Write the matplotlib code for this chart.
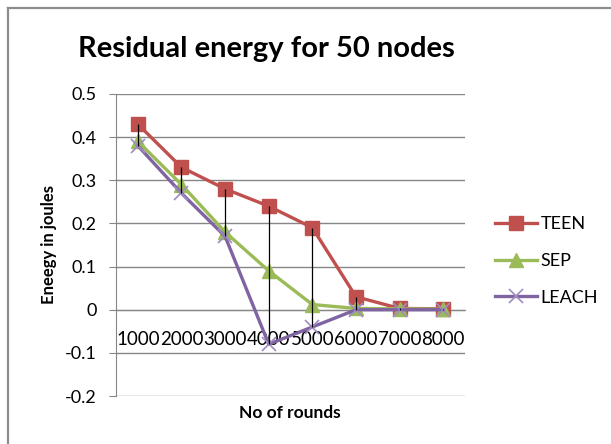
import numpy as np
import matplotlib
matplotlib.use('Agg')
import matplotlib.pyplot as plt
from matplotlib.lines import Line2D

# data
rounds = ['1000', '2000', '3000', '4000', '5000', '6000', '7000', '8000']
teen = [0.43, 0.33, 0.28, 0.24, 0.19, 0.03, 0.003, 0.002]
sep = [0.39, 0.29, 0.18, 0.09, 0.012, 0.003, 0.002, 0.001]
leach = [0.38, 0.27, 0.17, -0.08, -0.04, 0.0, 0.0, 0.0]
yticks = [-0.2, -0.1, 0, 0.1, 0.2, 0.3, 0.4, 0.5]

plt.rcParams['font.family'] = ['Lato', 'DejaVu Sans']

fig = plt.figure(figsize=(6.11, 4.44), dpi=100)
ax = fig.add_axes([0.1899, 0.1081, 0.5713, 0.6802])

# axis at zero first (set_position resets the ticks)
for s in ['top', 'right']:
    ax.spines[s].set_visible(False)
ax.spines['left'].set_color('#868686')
ax.spines['bottom'].set_color('#868686')
ax.spines['bottom'].set_position(('data', 0))

x = np.arange(1, len(rounds) + 1)

ax.plot(x, teen, color='#C0504D', lw=2.4, marker='s', ms=10, label='TEEN', zorder=3)
ax.plot(x, sep, color='#9BBB59', lw=2.4, marker='^', ms=10, label='SEP', zorder=4)
ax.plot(x, leach, color='#8064A2', lw=2.4, marker='x', ms=10, mew=1.2,
        mec='#A08CC0', label='LEACH', zorder=5)

# high-low lines
hi = np.max([teen, sep, leach], axis=0)
lo = np.min([teen, sep, leach], axis=0)
ax.vlines(x, lo, hi, color='black', lw=0.9, zorder=6)

ax.set_xlim(0.5, len(rounds) + 0.5)
ax.set_ylim(-0.2, 0.5)
ax.set_yticks(yticks)
ax.set_yticklabels(['-0.2', '-0.1', '0', '0.1', '0.2', '0.3', '0.4', '0.5'])
ax.set_xticks(x)
ax.set_xticklabels(rounds)
ax.tick_params(axis='x', length=0, pad=15, labelsize=13.5)
ax.tick_params(axis='y', length=5, color='#868686', pad=9, labelsize=13)
ax.grid(axis='y', color='#868686', lw=1)
ax.set_axisbelow(True)

ax.set_ylabel('Eneegy in joules', fontsize=12, fontweight='bold', labelpad=6)
fig.text(0.4746, 0.07, 'No of rounds', fontsize=12.5, fontweight='bold', ha='center', va='center')

fig.text(0.436, 0.89, 'Residual energy for 50 nodes', fontsize=21, fontweight='bold',
         ha='center', va='center')

ax.legend(loc='center left', bbox_to_anchor=(1.086, 0.447), frameon=False, fontsize=13,
          handlelength=2.3, labelspacing=1.15, handletextpad=0.2,
          borderaxespad=0, borderpad=0)

# chart border remnants (left and top)
fig.add_artist(Line2D([0.013, 0.013], [0, 0.982], color='#8C8C8C', lw=1.6))
fig.add_artist(Line2D([0.013, 1.0], [0.982, 0.982], color='#8C8C8C', lw=1.6))

fig.savefig('out.png', dpi=100)
